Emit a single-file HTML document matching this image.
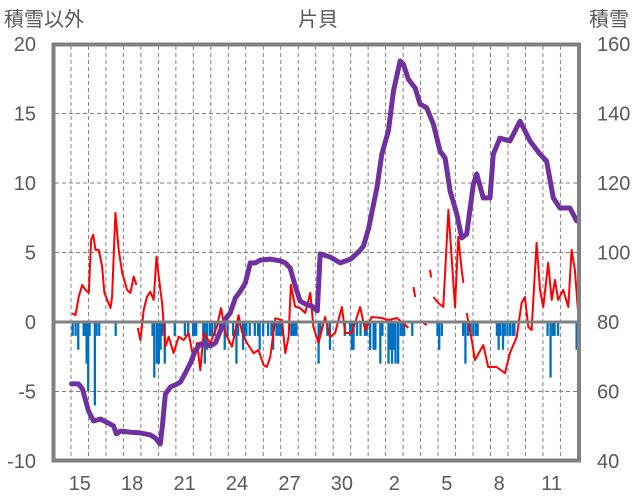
<!DOCTYPE html>
<html><head><meta charset="utf-8">
<style>
html,body{margin:0;padding:0;background:#fff;}
svg{display:block;font-family:"Liberation Sans","Noto Sans CJK JP",sans-serif;}
</style></head>
<body>
<svg id="chart" width="636" height="501" viewBox="0 0 636 501" xmlns="http://www.w3.org/2000/svg">
  <defs><clipPath id="plotclip"><rect x="55" y="46" width="522" height="413"/></clipPath></defs>
  <text x="4" y="26" font-size="20" fill="#595959">積雪以外</text>
  <text x="318" y="26" font-size="20" fill="#595959" text-anchor="middle">片貝</text>
  <text x="589" y="26" font-size="20" fill="#595959">積雪</text>
  <g id="grid"></g>
  <g id="bars" clip-path="url(#plotclip)"></g>
  <g id="lines" clip-path="url(#plotclip)"></g>
  <g id="axes"></g>
</svg>
<script>
const leftTicks = [20,15,10,5,0,-5,-10];
const rightTicks = [160,140,120,100,80,60,40];
const dayLabels = ["15","18","21","24","27","30","2","5","8","11"];
const dayLabelPos = [1.5,4.5,7.5,10.5,13.5,16.5,19.5,22.5,25.5,28.5];

const snowDepth = [[1.03,62.2],[1.43,62.2],[1.66,60.7],[2.0,54.4],[2.29,51.5],[2.69,52.1],[3.14,50.9],[3.43,50.1],[3.6,47.8],[3.83,48.6],[4.4,48.3],[4.97,48.1],[5.54,47.5],[5.83,46.6],[6.11,44.9],[6.23,50.1],[6.4,59.3],[6.69,61.3],[6.97,61.9],[7.26,62.7],[7.54,65.3],[7.83,68.2],[8.11,71.7],[8.4,73.7],[8.69,73.7],[8.97,73.1],[9.26,74.0],[9.54,77.4],[9.83,80.9],[10.11,82.6],[10.4,86.9],[10.69,88.9],[10.97,91.2],[11.26,97.0],[11.54,97.0],[11.83,97.8],[12.4,98.1],[12.97,97.6],[13.26,97.0],[13.54,95.5],[13.83,90.4],[14.11,86.0],[14.4,85.2],[14.8,84.5],[15.09,83.2],[15.26,99.6],[15.83,98.7],[16.4,97.0],[17.0,98.1],[17.5,100.4],[17.73,101.8],[18.02,106.8],[18.5,118.6],[18.78,128.3],[19.16,135.0],[19.45,146.5],[19.83,155.1],[20.02,154.2],[20.3,149.9],[20.69,147.3],[20.97,142.7],[21.35,141.6],[21.73,137.0],[22.11,129.2],[22.4,127.2],[22.69,117.7],[23.07,111.1],[23.35,104.2],[23.64,105.3],[24.02,119.7],[24.21,122.6],[24.59,115.7],[24.97,115.7],[25.16,128.3],[25.54,132.9],[26.11,132.1],[26.69,137.8],[27.26,132.1],[27.83,128.3],[28.21,126.3],[28.59,115.7],[28.97,112.8],[29.54,112.8],[29.93,109.1]];

const otherValues = [[1.07,0.63],[1.26,0.5],[1.45,1.82],[1.64,2.67],[1.83,2.31],[2.02,2.09],[2.15,5.91],[2.27,6.27],[2.4,5.19],[2.59,5.19],[2.78,3.99],[2.91,2.09],[3.07,1.59],[3.26,1.01],[3.35,1.82],[3.54,7.86],[3.73,5.19],[3.93,3.53],[4.21,2.31],[4.4,2.09],[4.59,3.27],[4.74,2.67],null,[4.82,-0.43],[4.97,-1.3],[5.16,0.87],[5.35,1.82],[5.54,2.18],[5.73,1.59],[5.89,4.71],[6.02,3.27],[6.21,1.37],[6.4,-1.78],[6.59,-1.06],[6.87,-2.24],[7.16,-1.06],[7.45,-1.3],[7.73,-0.79],[8.02,-2.74],[8.21,-1.51],[8.4,-3.46],[8.59,-0.79],[8.97,-1.51],[9.35,-0.34],[9.58,1.01],[9.83,-0.79],[10.21,-1.78],[10.59,0.5],[10.78,-0.7],[11.07,-1.51],[11.45,-2.24],[11.73,-2.02],[12.02,-3.1],[12.21,-3.22],[12.4,-2.5],[12.69,0.27],[13.07,0.14],[13.26,-2.24],[13.45,-1.06],[13.58,2.67],[13.83,1.1],[14.11,1.01],[14.4,0.65],[14.69,2.1],[14.87,-0.36],[15.16,-1.51],[15.54,0.36],[15.83,-1.08],[16.11,-0.79],[16.5,1.08],[16.69,-0.79],[17.07,-0.79],[17.54,1.08],[17.83,-0.58],[18.21,0.36],[18.78,0.29],[19.16,0.14],[19.64,0.29],[20.02,-0.07],[20.3,-0.43],null,[20.59,2.52],[20.69,1.8],null,[21.16,-0.07],[21.35,-0.22],null,[21.54,3.75],[21.6,3.2],null,[21.73,1.8],[22.02,1.37],[22.3,1.08],[22.59,8.07],[22.97,1.08],[23.16,6.13],[23.35,3.75],[23.45,2.81],null,[23.64,0.65],[23.93,-1.3],[24.11,-2.74],[24.59,-1.66],[24.87,-3.24],[25.35,-3.24],[25.83,-3.68],[26.11,-2.24],[26.5,-1.08],[26.78,1.37],[26.97,1.8],[27.16,-0.36],[27.35,-0.58],[27.64,5.7],[27.83,2.31],[28.02,1.08],[28.3,4.25],[28.5,1.59],[28.69,3.03],[28.87,1.59],[29.16,2.31],[29.45,1.08],[29.64,5.19],[29.83,3.75],[30.0,0.87]];

const snowfallBars = [[1.03,-1],[1.2,-1],[1.35,-2],[1.66,-1],[1.75,-1],[1.83,-3],[1.92,-5],[2.0,-1],[2.3,-6],[2.4,-1],[2.55,-1],[3.49,-1],[5.6,-1],[5.7,-4],[5.85,-3],[5.96,-3],[6.06,-2],[6.15,-1],[6.3,-3],[6.87,-1],[7.45,-1],[7.64,-1],[7.92,-1],[8.0,-1],[8.1,-1],[8.5,-1],[8.59,-3],[8.72,-2],[8.88,-1],[9.0,-1],[9.16,-1],[9.45,-1],[9.73,-2],[9.89,-1],[10.21,-1],[10.4,-3],[10.5,-1],[10.78,-2],[10.88,-1],[10.97,-1],[11.16,-1],[11.45,-1],[11.64,-1],[11.73,-2],[11.93,-1],[12.21,-1],[12.4,-1],[12.5,-2],[12.69,-1],[12.8,-1],[12.9,-1],[13.0,-1],[13.54,-1],[13.64,-1],[13.73,-1],[13.83,-1],[15.1,-3],[15.2,-1],[15.6,-1],[15.75,-2],[16.6,-1],[16.9,-1],[17.0,-2],[17.1,-2],[17.3,-1],[17.5,-1],[17.75,-1],[17.85,-1],[18.05,-2],[18.25,-2],[18.35,-2],[18.63,-3],[18.75,-1],[19.1,-3],[19.2,-2],[19.3,-3],[19.4,-2],[19.5,-3],[19.65,-3],[19.8,-1],[19.9,-1],[20.0,-1],[20.46,-1],[21.9,-1],[22.0,-2],[22.15,-1],[23.37,-1],[23.5,-3],[23.65,-1],[23.8,-1],[23.95,-1],[24.1,-1],[24.2,-1],[25.3,-1],[25.4,-2],[25.5,-1],[25.65,-2],[25.75,-1],[25.9,-1],[26.05,-1],[26.2,-1],[26.3,-1],[28.2,-1],[28.37,-4],[28.5,-1],[28.6,-1],[28.8,-1],[29.86,-2]];

const NS = "http://www.w3.org/2000/svg";
const X0 = 53.5, DW = 17.48;
function xs(t){ return X0 + t*DW; }
function yL(u){ return 322 - u*13.9; }
function yR(v){ return 322 - (v-80)*3.475; }
function mk(tag, attrs, parent){ const e=document.createElementNS(NS,tag); for(const k in attrs) e.setAttribute(k,attrs[k]); parent.appendChild(e); return e; }

const grid=document.getElementById('grid'), bars=document.getElementById('bars'), lines=document.getElementById('lines'), axes=document.getElementById('axes');

for(let k=1;k<=30;k++){
  const x=xs(k);
  if(x>577) break;
  const g=mk('line',{x1:x,x2:x,y1:46,y2:459,stroke:'#808080','stroke-width':1,'stroke-dasharray':'4 3'},grid);
  
  
}
leftTicks.forEach(u=>{
  const y=yL(u);
  if(u!==20 && u!==-10 && u!==0){
    const g=mk('line',{x1:55,x2:577,y1:y,y2:y,stroke:'#808080','stroke-width':1,'stroke-dasharray':'4 3'},grid);
    
    
  }
  const t=mk('text',{x:36,y:y+7,'font-size':20,fill:'#595959','text-anchor':'end'},axes);
  t.textContent=u;
  
  
});
rightTicks.forEach(v=>{
  const t=mk('text',{x:597,y:yR(v)+7,'font-size':20,fill:'#595959'},axes);
  t.textContent=v;
  
  
});
dayLabels.forEach((d,i)=>{
  const t=mk('text',{x:xs(dayLabelPos[i]),y:490,'font-size':20,fill:'#595959','text-anchor':'middle'},axes);
  t.textContent=d;
  
  
});

snowfallBars.forEach(b=>{
  const x=xs(b[0]);
  const r=mk('rect',{x:x,y:yL(0),width:2.3,height:yL(b[1])-yL(0),fill:'#0070C0'},bars);
  
  
});

function pathFrom(data, yf){
  let d='', pen=false;
  data.forEach(p=>{
    if(!p){ pen=false; return; }
    d += (pen?'L':'M') + xs(p[0]).toFixed(1) + ' ' + yf(p[1]).toFixed(1) + ' ';
    pen=true;
  });
  return d;
}
const red=mk('path',{d:pathFrom(otherValues,yL),fill:'none',stroke:'#FF0000','stroke-width':2,'stroke-linejoin':'round'},lines);


const purple=mk('path',{d:pathFrom(snowDepth,yR),fill:'none',stroke:'#7030A0','stroke-width':5,'stroke-linejoin':'round','stroke-linecap':'round'},lines);



const zero=mk('line',{x1:55,x2:577,y1:yL(0),y2:yL(0),stroke:'#808080','stroke-width':3},axes);


const frame=mk('rect',{x:53.5,y:44.5,width:525.5,height:416,fill:'none',stroke:'#808080','stroke-width':4},axes);


</script>
</body></html>
